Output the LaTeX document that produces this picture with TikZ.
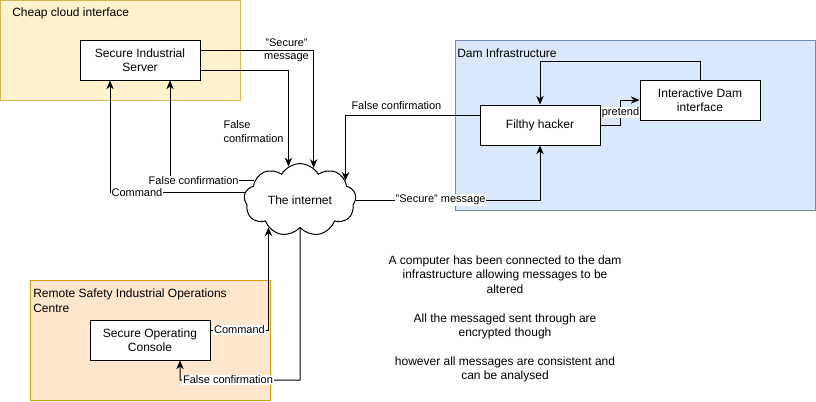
\documentclass[tikz,border=0pt]{standalone}
\usepackage{fontspec}
\setmainfont{Liberation Sans}
\usetikzlibrary{shapes.symbols, arrows.meta, positioning}

\definecolor{cloudzonefill}{HTML}{FFF2CC}
\definecolor{cloudzoneline}{HTML}{D6B656}
\definecolor{damzonefill}{HTML}{DAE8FC}
\definecolor{damzoneline}{HTML}{6C8EBF}
\definecolor{remotezonefill}{HTML}{FFE6CC}
\definecolor{remotezoneline}{HTML}{D79B00}

\begin{document}
\begin{tikzpicture}[x=0.75pt, y=-0.75pt,
  every node/.style={font=\fontsize{9}{10.8}\selectfont},
  zone/.style={rectangle, line width=0.75pt, inner sep=0pt},
  title/.style={anchor=west, inner sep=0pt, align=left},
  box/.style={rectangle, minimum width=90pt, minimum height=30pt, text centered, align=center, draw=black, fill=white, line width=0.75pt},
  netcloud/.style={cloud, cloud puffs=9, cloud puff arc=120, aspect=1.55, minimum width=84pt, minimum height=54pt, draw=black, fill=white, line width=0.75pt, inner sep=0pt},
  edgetext/.style={font=\fontsize{8.25}{10}\selectfont},
  lbl/.style={edgetext, fill=white, inner sep=0.5pt},
  arrow/.style={line width=0.75pt, ->, >={Stealth[length=6.5pt, width=5.5pt, inset=2pt]}}]

  \useasboundingbox (0,0) rectangle (816,401);

  % Zones
  \node (cloudzone) [zone, draw=cloudzoneline, fill=cloudzonefill, minimum width=180pt, minimum height=75pt] at (120,50) {};
  \node (damzone) [zone, draw=damzoneline, fill=damzonefill, minimum width=270pt, minimum height=127.5pt] at (635,125) {};
  \node (remotezone) [zone, draw=remotezoneline, fill=remotezonefill, minimum width=180pt, minimum height=90pt] at (150,340) {};

  \node (cloudtitle) [title] at (12,13) {Cheap cloud interface};
  \node (damtitle) [title] at (457,53) {Dam Infrastructure};
  \node (remotetitle) [title] at (33,300.5) {Remote Safety Industrial Operations\\Centre};

  % Nodes
  \node (srv) [box] at (140,60) {Secure Industrial\\Server};
  \node (con) [box] at (150,340) {Secure Operating\\Console};
  \node (hack) [box] at (540,125) {Filthy hacker};
  \node (dam) [box] at (700,100) {Interactive Dam\\interface};
  \node (net) [netcloud] at (300,200) {The internet};

  \node (note) [align=center] at (505,319) {A computer has been connected to the dam\\infrastructure allowing messages to be\\altered\\[10.8pt]All the messaged sent through are\\encrypted though\\[10.8pt]however all messages are consistent and\\can be analysed};

  % Arrows
  \draw [arrow] ([yshift=7.5pt]srv.east) -| node[edgetext, pos=0.38, align=center] {"Secure"\\message} (net.67);
  \draw [arrow] ([yshift=-7.5pt]srv.east) -| node[edgetext, pos=0.82, left, align=left] {False\\confirmation} (net.109);
  \draw [arrow] (net.157) -| node[lbl, pos=0.36] {False confirmation} ([xshift=22.5pt]srv.south);
  \draw [arrow] (net.172) -| node[lbl, pos=0.40] {Command} ([xshift=-22.5pt]srv.south);

  \draw [arrow] ([yshift=7.5pt]hack.west) -| node[edgetext, above, pos=0.31] {False confirmation} (net.23);
  \draw [arrow] (net.east) -| node[lbl, pos=0.23] {"Secure" message} (hack.south);
  \draw [arrow] (dam.north) -- ++(0,-18) -| (hack.north);
  \draw [arrow] (hack.east) -- ++(20,0) |- node[lbl, pos=0.25] {pretend} (dam.west);

  \coordinate (fcturn) at (300,380);
  \draw [arrow] ([yshift=7.5pt]con.east) -| node[lbl, pos=0.25] {Command} (net.221);
  \draw [arrow] (net.south) -- (fcturn) -| node[lbl, pos=0.3] {False confirmation} ([xshift=22.5pt]con.south);

\end{tikzpicture}
\end{document}
